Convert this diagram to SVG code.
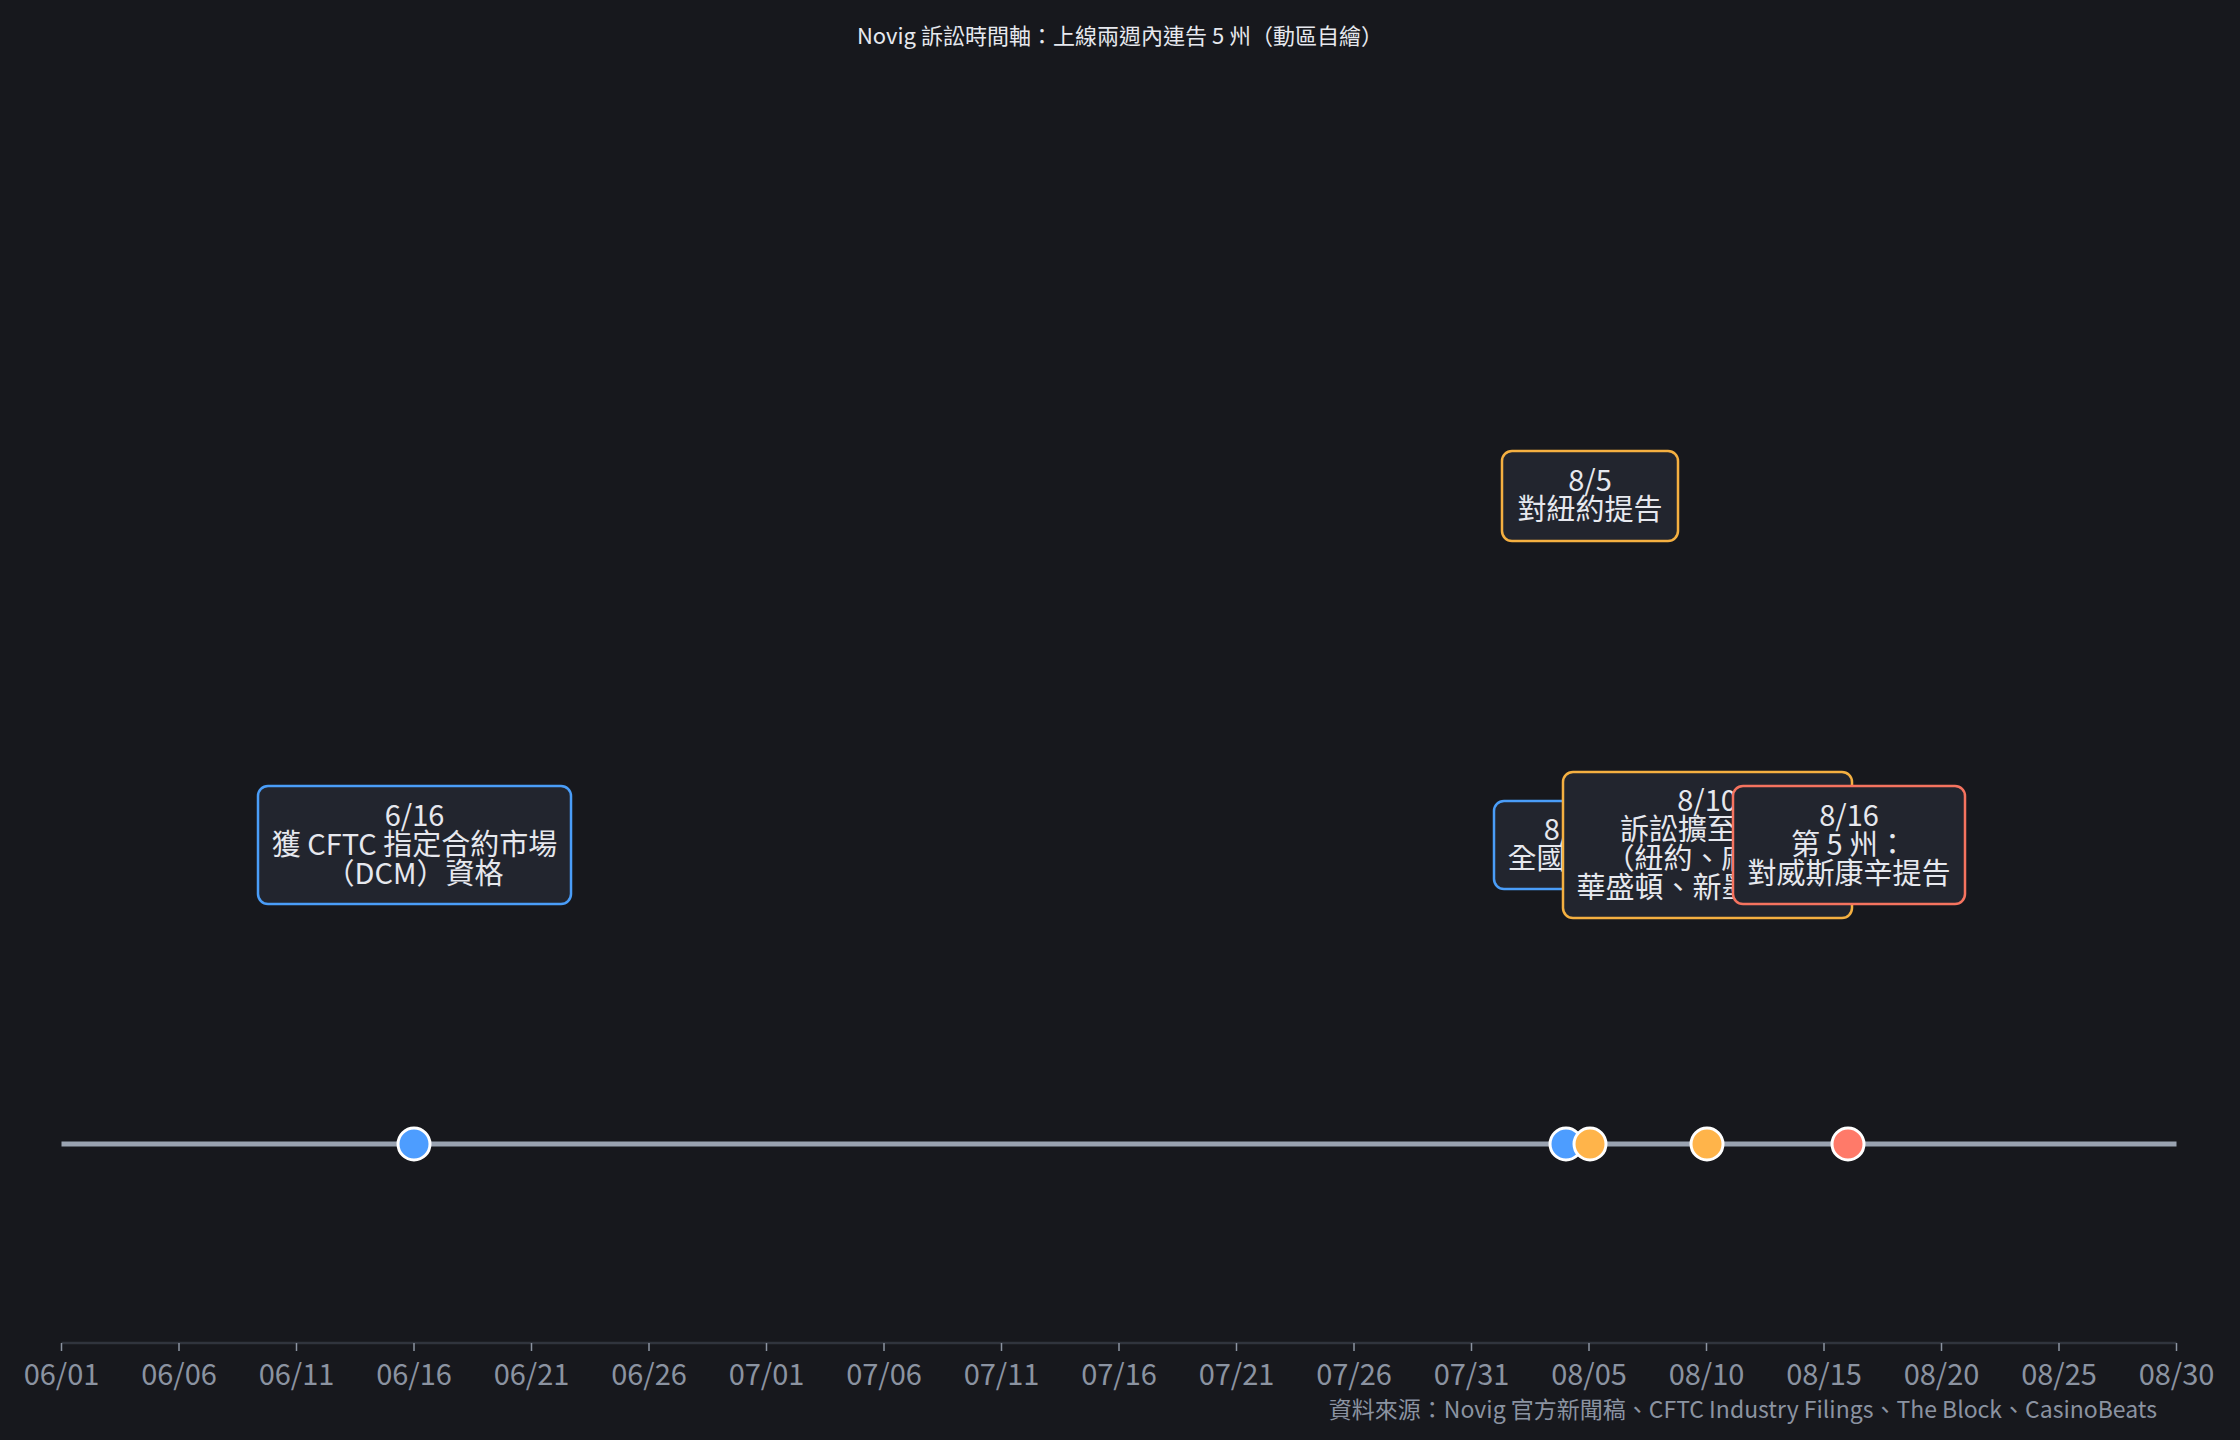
<svg xmlns="http://www.w3.org/2000/svg" width="2240" height="1440" viewBox="0 0 2240 1440">
<style>
text{font-family:"Noto Sans CJK TC","Noto Sans CJK SC","Noto Sans",sans-serif;}
.lbl{font-size:29px;fill:#e6e8ee;text-anchor:middle;}
.box{fill:#22252e;stroke-width:2.5;}
.b{stroke:#4a9df8;}
.o{stroke:#f5b041;}
.r{stroke:#f5735f;}
.dot{stroke:#ffffff;stroke-width:3;}
.tick{stroke:#8b93a1;stroke-width:1.5;}
.tl{font-size:29px;fill:#8b93a1;text-anchor:middle;}
</style>
<rect x="0" y="0" width="2240" height="1440" fill="#17181d"/>
<text x="1120" y="43.5" font-size="22" fill="#e6e8ee" text-anchor="middle">Novig 訴訟時間軸：上線兩週內連告 5 州（動區自繪）</text>
<g id="axis">
<line x1="61.5" y1="1343" x2="2176.5" y2="1343" stroke="#30343d" stroke-width="2.5"/>
<g class="tick">
<line x1="61.5" y1="1343" x2="61.5" y2="1351"/>
<line x1="179" y1="1343" x2="179" y2="1351"/>
<line x1="296.5" y1="1343" x2="296.5" y2="1351"/>
<line x1="414" y1="1343" x2="414" y2="1351"/>
<line x1="531.5" y1="1343" x2="531.5" y2="1351"/>
<line x1="649" y1="1343" x2="649" y2="1351"/>
<line x1="766.5" y1="1343" x2="766.5" y2="1351"/>
<line x1="884" y1="1343" x2="884" y2="1351"/>
<line x1="1001.5" y1="1343" x2="1001.5" y2="1351"/>
<line x1="1119" y1="1343" x2="1119" y2="1351"/>
<line x1="1236.5" y1="1343" x2="1236.5" y2="1351"/>
<line x1="1354" y1="1343" x2="1354" y2="1351"/>
<line x1="1471.5" y1="1343" x2="1471.5" y2="1351"/>
<line x1="1589" y1="1343" x2="1589" y2="1351"/>
<line x1="1706.5" y1="1343" x2="1706.5" y2="1351"/>
<line x1="1824" y1="1343" x2="1824" y2="1351"/>
<line x1="1941.5" y1="1343" x2="1941.5" y2="1351"/>
<line x1="2059" y1="1343" x2="2059" y2="1351"/>
<line x1="2176.5" y1="1343" x2="2176.5" y2="1351"/>
</g>
<g class="tl">
<text x="61.5" y="1385">06/01</text>
<text x="179" y="1385">06/06</text>
<text x="296.5" y="1385">06/11</text>
<text x="414" y="1385">06/16</text>
<text x="531.5" y="1385">06/21</text>
<text x="649" y="1385">06/26</text>
<text x="766.5" y="1385">07/01</text>
<text x="884" y="1385">07/06</text>
<text x="1001.5" y="1385">07/11</text>
<text x="1119" y="1385">07/16</text>
<text x="1236.5" y="1385">07/21</text>
<text x="1354" y="1385">07/26</text>
<text x="1471.5" y="1385">07/31</text>
<text x="1589" y="1385">08/05</text>
<text x="1706.5" y="1385">08/10</text>
<text x="1824" y="1385">08/15</text>
<text x="1941.5" y="1385">08/20</text>
<text x="2059" y="1385">08/25</text>
<text x="2176.5" y="1385">08/30</text>
</g>
</g>
<g id="connectors">
<line x1="61.5" y1="1144" x2="2176.5" y2="1144" stroke="#9aa3b1" stroke-width="5"/>
</g>
<g id="e0616">
<circle class="dot" cx="414" cy="1144" r="16" fill="#4d9dff"/>
<rect class="box b" x="258" y="786" width="313" height="118" rx="10"/>
<text class="lbl" x="414.5" y="825.5">6/16</text>
<text class="lbl" x="414.5" y="854.5">獲 CFTC 指定合約市場</text>
<text class="lbl" x="414.5" y="883.5">（DCM）資格</text>
</g>
<g id="e0804">
<circle class="dot" cx="1566" cy="1144" r="16" fill="#4d9dff"/>
<rect class="box b" x="1494" y="801" width="143" height="88" rx="10"/>
<text class="lbl" x="1565.5" y="840">8/4</text>
<text class="lbl" x="1565.5" y="869">全國上線</text>
</g>
<g id="e0805">
<circle class="dot" cx="1590" cy="1144" r="16" fill="#ffb44a"/>
<rect class="box o" x="1502" y="451" width="176" height="90" rx="10"/>
<text class="lbl" x="1590" y="491">8/5</text>
<text class="lbl" x="1590" y="520">對紐約提告</text>
</g>
<g id="e0810">
<circle class="dot" cx="1707" cy="1144" r="16" fill="#ffb44a"/>
<rect class="box o" x="1563" y="772" width="289" height="146" rx="10"/>
<text class="lbl" x="1707" y="810.5">8/10</text>
<text class="lbl" x="1707" y="839.5">訴訟擴至 4 州</text>
<text class="lbl" x="1707" y="868.5">（紐約、麻州、</text>
<text class="lbl" x="1707" y="897.5">華盛頓、新墨西哥）</text>
</g>
<g id="e0816">
<circle class="dot" cx="1848" cy="1144" r="16" fill="#ff7a69"/>
<rect class="box r" x="1733" y="786" width="232" height="118" rx="10"/>
<text class="lbl" x="1849" y="825.5">8/16</text>
<text class="lbl" x="1849" y="854.5">第 5 州：</text>
<text class="lbl" x="1849" y="883.5">對威斯康辛提告</text>
</g>
<text x="2157" y="1418" font-size="23" fill="#8b93a1" text-anchor="end">資料來源：Novig 官方新聞稿、CFTC Industry Filings、The Block、CasinoBeats</text>
</svg>
